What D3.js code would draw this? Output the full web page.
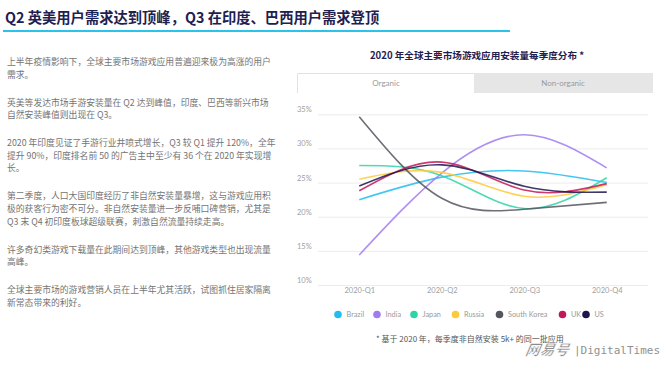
<!DOCTYPE html>
<html>
<head>
<meta charset="utf-8">
<script src="https://cdn.jsdelivr.net/npm/d3@7"></script>
<style>
  body { margin: 0; background: #fff; }
  svg { display: block; }
  .cjk { font-family: "Noto Sans CJK SC", sans-serif; }
  .lat { font-family: Lato, "Noto Sans CJK SC", sans-serif; }
</style>
</head>
<body>
<div id="chart"></div>
<script>
// DATA //
const quarters = ["2020-Q1", "2020-Q2", "2020-Q3", "2020-Q4"];
const countries = ["Brazil", "India", "Japan", "Russia", "South Korea", "UK", "US"];
const brazil = [22.5, 25.8, 26.7, 25.0];
const india = [14.4, 26.4, 32.0, 27.15];
const japan = [27.5, 26.0, 21.2, 25.7];
const russia = [25.5, 26.5, 23.0, 24.7];
const southKorea = [34.65, 22.7, 21.1, 22.1];
const uk = [23.8, 28.0, 23.9, 24.85];
const us = [24.5, 27.6, 24.45, 23.6];
const yTicks = [10, 15, 20, 25, 30, 35];

const seriesValues = [brazil, india, japan, russia, southKorea, uk, us];
const colors = ["#22bdf0", "#a07cf0", "#2fd3a8", "#ffc93a", "#55555f", "#c2185b", "#1d1450"];

const title = "Q2 英美用户需求达到顶峰，Q3 在印度、巴西用户需求登顶";
const chartTitle = "2020 年全球主要市场游戏应用安装量每季度分布 *";
const footnote = "* 基于 2020 年，每季度非自然安装 5k+ 的同一批应用";
const paragraphs = [
  ["上半年疫情影响下，全球主要市场游戏应用普遍迎来极为高涨的用户", "需求。"],
  ["英美等发达市场手游安装量在 Q2 达到峰值，印度、巴西等新兴市场", "自然安装峰值则出现在 Q3。"],
  ["2020 年印度见证了手游行业井喷式增长，Q3 较 Q1 提升 120%，全年",
   "提升 90%，印度排名前 50 的广告主中至少有 36 个在 2020 年实现增", "长。"],
  ["第二季度，人口大国印度经历了非自然安装量暴增，这与游戏应用积",
   "极的获客行为密不可分。非自然安装量进一步反哺口碑营销，尤其是",
   "Q3 末 Q4 初印度板球超级联赛，刺激自然流量持续走高。"],
  ["许多奇幻类游戏下载量在此期间达到顶峰，其他游戏类型也出现流量", "高峰。"],
  ["全球主要市场的游戏营销人员在上半年尤其活跃，试图抓住居家隔离", "新常态带来的利好。"],
];

const W = 672, H = 368;
const svg = d3.select("#chart").append("svg").attr("width", W).attr("height", H);

// header
svg.append("text").attr("class", "cjk")
  .attr("x", 5).attr("y", 23)
  .attr("font-size", 14.3).attr("font-weight", 700).attr("fill", "#1e2150")
  .text(title);
svg.append("rect").attr("x", 3).attr("y", 30).attr("width", 507).attr("height", 2)
  .attr("fill", "#2cc3ea");

// left text block
let ty = 65;
paragraphs.forEach((p) => {
  p.forEach((line) => {
    svg.append("text").attr("class", "cjk")
      .attr("x", 7).attr("y", ty)
      .attr("font-size", 8.8).attr("fill", "#747474")
      .text(line);
    ty += 12.6;
  });
  ty += 15.4;
});

// chart title + tabs
svg.append("text").attr("class", "cjk")
  .attr("x", 477).attr("y", 58.5).attr("text-anchor", "middle")
  .attr("font-size", 9.6).attr("font-weight", 700).attr("fill", "#1e2150")
  .text(chartTitle);

svg.append("rect").attr("x", 474).attr("y", 73).attr("width", 179).attr("height", 20)
  .attr("fill", "#e6e6e6");
svg.append("path").attr("d", "M297.5,93V73.5H474")
  .attr("fill", "none").attr("stroke", "#e2e2e2");
svg.append("text").attr("class", "lat").attr("x", 386).attr("y", 86)
  .attr("text-anchor", "middle").attr("font-size", 8).attr("fill", "#9a9a9a").text("Organic");
svg.append("text").attr("class", "lat").attr("x", 563).attr("y", 86)
  .attr("text-anchor", "middle").attr("font-size", 8).attr("fill", "#9a9a9a").text("Non-organic");

// scales
const x = d3.scalePoint().domain(quarters).range([318, 648]).padding(0.5);
const y = d3.scaleLinear().domain([10, 35]).range([285, 114.3]);

// y axis / gridlines
const yAxis = svg.append("g")
  .attr("transform", "translate(318,0)")
  .call(d3.axisRight(y).tickValues(yTicks).tickSize(330).tickFormat((d) => d + "%"));
yAxis.select(".domain").remove();
yAxis.selectAll("line").attr("stroke", "#ececec");
yAxis.selectAll("text")
  .attr("class", "lat")
  .attr("x", -21).attr("dy", -2.5)
  .attr("text-anchor", "start")
  .attr("font-size", 7.5).attr("fill", "#a0a0a0");

// x axis
const xAxis = svg.append("g")
  .attr("transform", "translate(0,285)")
  .call(d3.axisBottom(x).tickSize(0).tickPadding(3));
xAxis.select(".domain").remove();
xAxis.selectAll("text")
  .attr("class", "lat")
  .attr("font-size", 7.5).attr("fill", "#a0a0a0");

// lines
const line = d3.line()
  .x((d, i) => x(quarters[i]))
  .y((d) => y(d))
  .curve(d3.curveNatural);

svg.append("g").selectAll("path")
  .data(seriesValues)
  .enter()
  .append("path")
  .attr("d", line)
  .attr("fill", "none")
  .attr("stroke", (d, i) => colors[i])
  .attr("stroke-width", 1.6)
  .attr("stroke-opacity", 0.85);

// legend
const legendX = [338, 377, 414, 455.5, 499.5, 562.5, 586];
const legend = svg.append("g").selectAll("g")
  .data(countries)
  .enter()
  .append("g")
  .attr("transform", (d, i) => `translate(${legendX[i]},314.5)`);
legend.append("circle").attr("r", 3.8).attr("fill", (d, i) => colors[i]);
legend.append("text").attr("class", "lat")
  .attr("x", 8.5).attr("dy", "0.35em")
  .attr("font-size", 7.3).attr("fill", "#9a9a9a")
  .text((d) => d);

// footnote
svg.append("text").attr("class", "cjk")
  .attr("x", 376).attr("y", 342)
  .attr("font-size", 8).attr("fill", "#555")
  .text(footnote);

// watermark
svg.append("text").attr("class", "cjk")
  .attr("x", 526).attr("y", 355)
  .attr("font-size", 14.5).attr("font-style", "italic").attr("font-weight", 700)
  .attr("fill", "#8c8c8c").attr("stroke", "#fff").attr("stroke-width", 0.5)
  .attr("transform", "skewX(-10)").attr("transform-origin", "546 348")
  .text("网易号");
svg.append("text")
  .attr("x", 574).attr("y", 354)
  .attr("font-family", "'DejaVu Sans Mono', monospace")
  .attr("font-size", 11).attr("fill", "#909090")
  .text("|DigitalTimes");
</script>
</body>
</html>
